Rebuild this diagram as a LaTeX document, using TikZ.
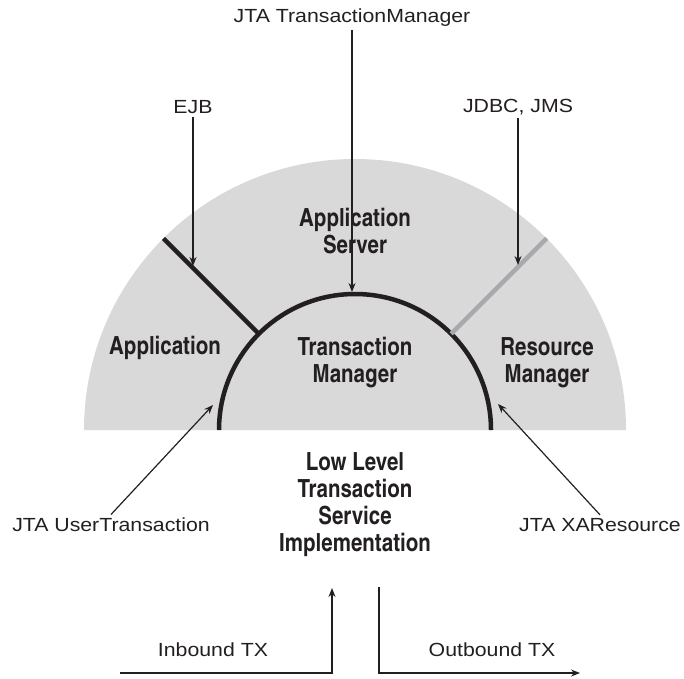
\documentclass[tikz,border=0pt]{standalone}
\usepackage{fontspec}
\setmainfont{Liberation Sans}[FakeStretch=1.12]
\newfontfamily\regionfont{texgyreheroscn}[Extension=.otf,UprightFont=*-regular,BoldFont=*-bold]
\usetikzlibrary{arrows.meta,positioning,calc}
\definecolor{ink}{HTML}{231F20}
\definecolor{discgray}{HTML}{D9D9D9}
\definecolor{rmgray}{HTML}{A7A9AC}

\begin{document}
\begin{tikzpicture}[
  x=1pt, y=-1pt,
  font=\fontsize{19}{22}\selectfont,
  >={Stealth[length=9pt,width=7pt]},
  every node/.style={
    align=center,
    text=ink,
  },
  region/.style={
    font=\regionfont\fontsize{25}{27}\selectfont\bfseries,
    inner sep=0pt,
  },
  arr/.style={
    ->,
    ink,
    line width=1.2pt,
  },
  rim/.style={
    ink,
    line width=4.5pt,
  },
]
\useasboundingbox (0,0) rectangle (684,678);

% --- half discs ---
\coordinate (hub) at (355,430);
\fill[discgray] ($(hub)+(-271,0)$) arc[start angle=180, end angle=0, radius=271pt] -- cycle;
\draw[rim] ($(hub)+(-136,0)$) arc[start angle=180, end angle=0, radius=136pt];
\draw[rim] ($(hub)+(135:136pt)$) -- ($(hub)+(135:271pt)$);
\draw[rim, rmgray] ($(hub)+(45:136pt)$) -- ($(hub)+(45:271pt)$);

% --- labels ---
\node (jtatm) at (352,18) {JTA TransactionManager};
\node (ejb) at (193,107) {EJB};
\node (jdbc) at (518,107) {JDBC, JMS};
\node[region] (appsrv) at (355,231) {Application\\Server};
\node[region] (app) at (165,348) {Application};
\node[region] (tm) at (355,363) {Transaction\\Manager};
\node[region] (rm) at (547,363) {Resource\\Manager};
\node[region] (lowlvl) at (355,505) {Low Level\\Transaction\\Service\\Implementation};
\node (ut) at (111,525) {JTA UserTransaction};
\node (xa) at (600,525) {JTA XAResource};
\node (inb) at (213,650) {Inbound TX};
\node (outb) at (492,650) {Outbound TX};

% --- arrows ---
\coordinate (tmtop) at (352,292);
\coordinate (ejbhit) at (193,266);
\coordinate (jdbchit) at (518,265);
\coordinate (uthit) at (213,405);
\coordinate (xahit) at (498,404);
\draw[arr] (jtatm) -- (tmtop);
\draw[arr] (ejb) -- (ejbhit);
\draw[arr] (jdbc) -- (jdbchit);
\draw[arr] (ut.north) -- (uthit);
\draw[arr] (xa.north) -- (xahit);

\coordinate (instart) at (120,673);
\coordinate (inend) at (332,588);
\coordinate (outstart) at (379,587);
\coordinate (outend) at (580,673);
\draw[arr] (instart) -| (inend);
\draw[arr] (outstart) |- (outend);

\end{tikzpicture}
\end{document}
